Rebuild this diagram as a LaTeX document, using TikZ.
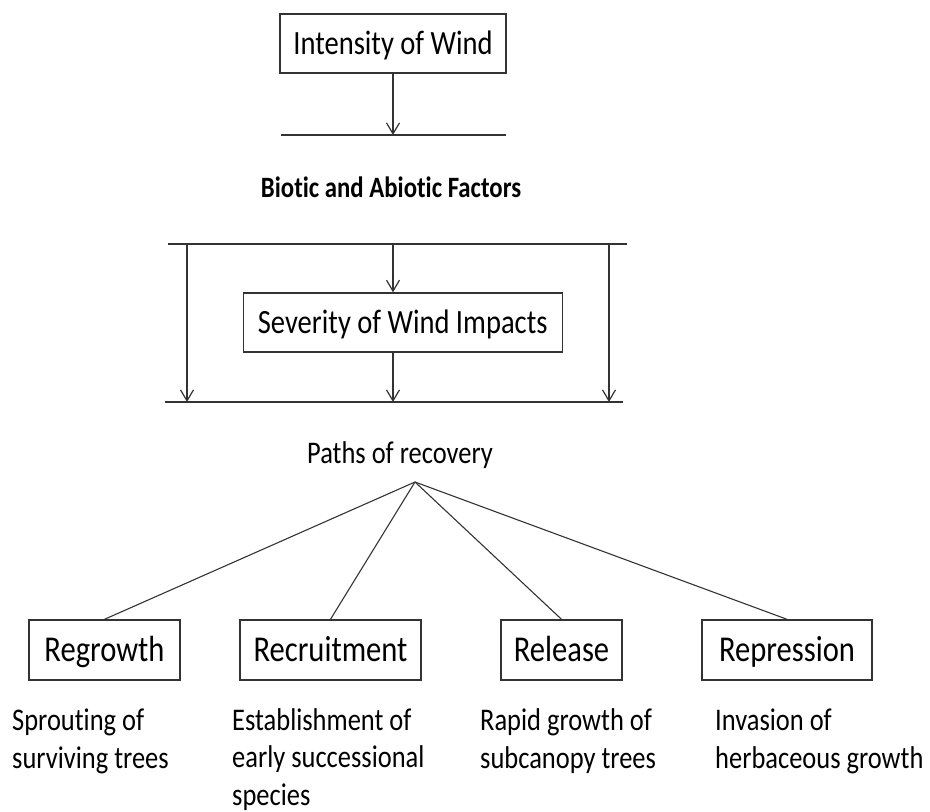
\documentclass[tikz,border=0pt]{standalone}
\usepackage{fontspec}
\setmainfont{Carlito}[FakeStretch=0.84, Ligatures=NoCommon]
\usetikzlibrary{arrows.meta}
\tikzset{
  ln/.style={draw=black!80, line width=1.3pt},
  arr/.style={ln, -{Straight Barb[length=11pt,width=13pt,line width=1.2pt]}},
  bigbox/.style={draw=black!80, line width=1.4pt, fill=white, inner sep=0pt,
    minimum height=59pt, text height=21.5pt, text depth=0pt, font=\fontsize{34}{40}\selectfont},
  pathbox/.style={draw=black!80, line width=1.4pt, fill=white, inner sep=0pt,
    minimum height=60pt, text height=23pt, text depth=0pt, font=\fontsize{36.4}{42}\selectfont},
  lbl/.style={inner sep=0pt, font=\fontsize{31.5}{38}\selectfont},
  desc/.style={inner sep=0pt, anchor=base west, align=left, font=\fontsize{31.5}{37.5}\selectfont},
}
\begin{document}
\begin{tikzpicture}[x=1pt,y=-1pt]
\useasboundingbox (0,0) rectangle (930,812);
% top box
\node[bigbox, minimum width=226pt] (int) at (393,43.5) {Intensity of Wind};
\coordinate (l1a) at (281,135);
\coordinate (l1b) at (506,135);
\coordinate (l1c) at (393,135);
\draw[ln] (l1a) -- (l1b);
\draw[arr] (int.south) -- (l1c);
% factors label
\node[lbl, anchor=base, font=\bfseries\fontsize{29.5}{36}\selectfont] (bio) at (391,197) {Biotic and Abiotic Factors};
% second line
\coordinate (l2a) at (168,244);
\coordinate (l2b) at (627,244);
\coordinate (l2c) at (393,244);
\coordinate (l2l) at (187,244);
\coordinate (l2r) at (609,244);
\draw[ln] (l2a) -- (l2b);
% severity
\node[bigbox, minimum width=319pt] (sev) at (402.7,322.5) {Severity of Wind Impacts};
\coordinate (l3a) at (165,402);
\coordinate (l3b) at (623,402);
\coordinate (l3c) at (393,402);
\coordinate (l3l) at (187,402);
\coordinate (l3r) at (609,402);
\draw[ln] (l3a) -- (l3b);
\draw[arr] (l2c) -- (l2c |- sev.north);
\draw[arr] (l3c |- sev.south) -- (l3c);
\draw[arr] (l2l) -- (l3l);
\draw[arr] (l2r) -- (l3r);
% paths of recovery
\node[lbl, anchor=base] (paths) at (400,463) {Paths of recovery};
\coordinate (apex) at (415,482);
% boxes
\node[pathbox, minimum width=151pt] (reg) at (104.5,650) {Regrowth};
\node[pathbox, minimum width=181pt] (rec) at (330.5,650) {Recruitment};
\node[pathbox, minimum width=121pt] (rel) at (561.5,650) {Release};
\node[pathbox, minimum width=170pt] (rep) at (787,650) {Repression};
\draw[ln, line width=1.1pt] (apex) -- (reg.north);
\draw[ln, line width=1.1pt] (apex) -- (rec.north);
\draw[ln, line width=1.1pt] (apex) -- (rel.north);
\draw[ln, line width=1.1pt] (apex) -- (rep.north);
% descriptions (base anchor = last line's baseline)
\node[desc] (d1) at (12,768) {Sprouting of\\surviving trees};
\node[desc] (d2) at (232,805) {Establishment\ of\\early successional\\species};
\node[desc] (d3) at (480,768) {Rapid growth of\\subcanopy\ trees};
\node[desc] (d4) at (715,768) {Invasion of\\herbaceous growth};
\end{tikzpicture}
\end{document}
